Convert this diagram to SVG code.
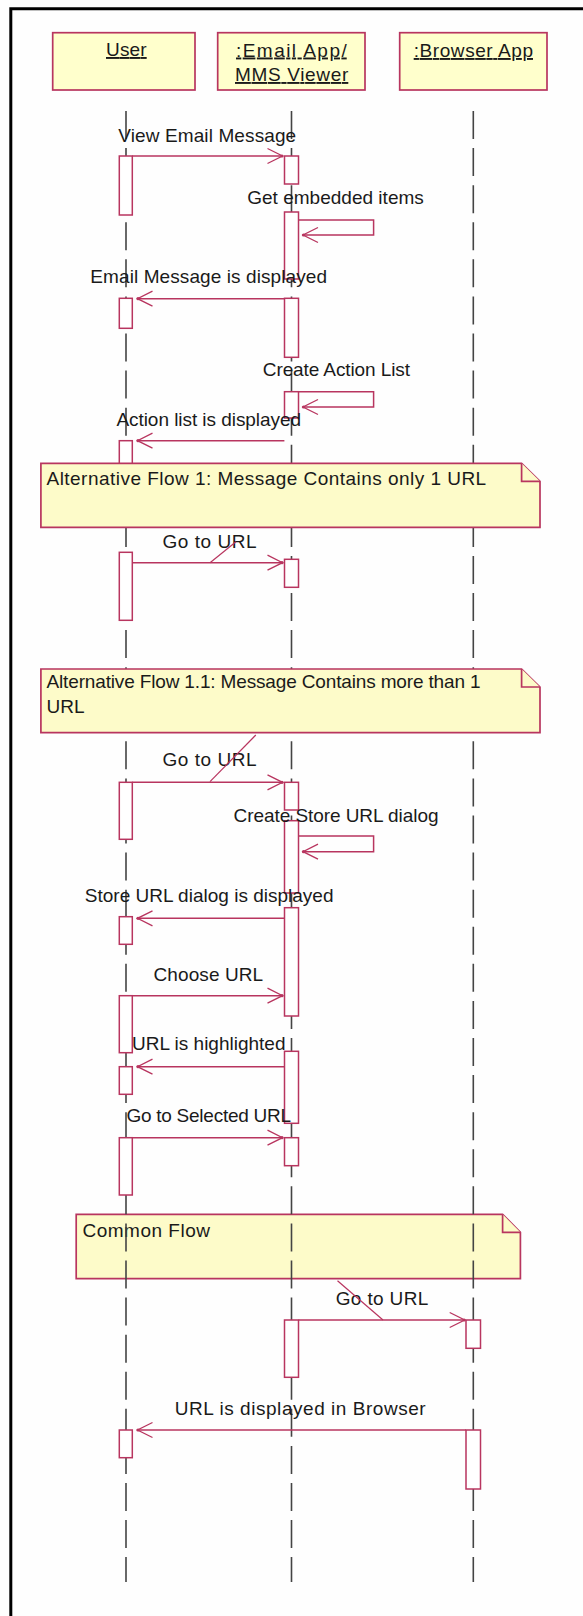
<svg xmlns="http://www.w3.org/2000/svg" width="583" height="1616" viewBox="0 0 583 1616">
<style>
.box{fill:#ffffcc;stroke:#b8355f;stroke-width:1.7}
.note{fill:#fdfbc9;stroke:#b8355f;stroke-width:1.7}
.act{fill:#ffffff;stroke:#b8355f;stroke-width:1.5}
.life{stroke:#444;stroke-width:1.6;stroke-dasharray:28 9.08;fill:none}
.msg{stroke:#b8355f;stroke-width:1.5;fill:none;marker-end:url(#arr)}
.anc{stroke:#b8355f;stroke-width:1.2;fill:none}
.t{font-family:"Liberation Sans",Arial,sans-serif;font-size:19px;fill:#1a1a1a}
.u{text-decoration:underline}
</style>
<defs>
<marker id="arr" markerUnits="userSpaceOnUse" markerWidth="18" markerHeight="18" viewBox="0 0 18 18" refX="16" refY="9" orient="auto">
<path d="M1,1.5 L16,9 L1,16.5" fill="none" stroke="#b8355f" stroke-width="1.3"/>
<circle cx="15.5" cy="9" r="1.6" fill="#b8355f"/>
</marker>
</defs>
<rect x="0" y="0" width="583" height="1616" fill="#fefefe"/>
<path d="M10.8,1616 V8.8 H583" fill="none" stroke="#000" stroke-width="3"/>

<g id="note-common">
<path class="note" d="M76.2,1214.3 H502.6 L520.4,1232.3 V1278.7 H76.2 Z"/>
<path class="note" d="M502.6,1214.3 V1232.3 H520.4" fill="none"/>
<text class="t" x="82.5" y="1237" textLength="127.5">Common Flow</text>
</g>

<g id="user">
<rect class="box" x="52.7" y="32.7" width="142.3" height="57.3"/>
<text class="t u" x="106" y="56" textLength="40.7">User</text>
<line class="life" x1="126" y1="111" x2="126" y2="1582"/>
<rect class="act" x="119.3" y="156" width="13" height="59"/>
<rect class="act" x="119.3" y="298.3" width="13" height="30"/>
<rect class="act" x="119.3" y="440.7" width="13" height="50"/>
<rect class="act" x="119.3" y="552.3" width="13" height="68"/>
<rect class="act" x="119.3" y="782.3" width="13" height="57"/>
<rect class="act" x="119.3" y="916.7" width="13" height="27.6"/>
<rect class="act" x="119.3" y="995.7" width="13" height="57"/>
<rect class="act" x="119.3" y="1066.7" width="13" height="27.6"/>
<rect class="act" x="119.3" y="1137.7" width="13" height="57.3"/>
<rect class="act" x="119.3" y="1430" width="13" height="27.7"/>
</g>

<g id="email">
<rect class="box" x="217.7" y="32.7" width="147.3" height="57.3"/>
<text class="t u" x="236" y="56.5" textLength="110.7">:Email App/</text>
<text class="t u" x="235" y="81" textLength="113.3">MMS Viewer</text>
<line class="life" x1="291.5" y1="111" x2="291.5" y2="1582"/>
<rect class="act" x="284.5" y="156" width="14" height="28"/>
<rect class="act" x="284.5" y="212" width="14" height="67"/>
<rect class="act" x="284.5" y="298.3" width="14" height="59"/>
<rect class="act" x="284.5" y="391.7" width="14" height="26.3"/>
<rect class="act" x="284.5" y="559.3" width="14" height="28"/>
<rect class="act" x="284.5" y="782.3" width="14" height="27.7"/>
<rect class="act" x="284.5" y="820.7" width="14" height="72.3"/>
<rect class="act" x="284.5" y="907.7" width="14" height="108.3"/>
<rect class="act" x="284.5" y="1051.3" width="14" height="72"/>
<rect class="act" x="284.5" y="1137.7" width="14" height="28"/>
<rect class="act" x="284.5" y="1320" width="14" height="57.3"/>
</g>

<g id="browser">
<rect class="box" x="399.7" y="32.7" width="147.3" height="57.3"/>
<text class="t u" x="413.7" y="57" textLength="119.3">:Browser App</text>
<line class="life" x1="473.3" y1="111" x2="473.3" y2="1582"/>
<rect class="act" x="466" y="1320" width="14.5" height="28.3"/>
<rect class="act" x="466" y="1430" width="14.5" height="59"/>
</g>

<g id="connectors">
<path class="msg" d="M132.3,156 H282.5"/>
<text class="t" x="118.2" y="141.5" textLength="178">View Email Message</text>
<path class="msg" d="M298.5,220 H373.6 V235 H303"/>
<text class="t" x="247.2" y="204" textLength="176.6">Get embedded items</text>
<path class="msg" d="M284.4,298.7 H137.5"/>
<text class="t" x="90.3" y="283" textLength="236.8">Email Message is displayed</text>
<path class="msg" d="M298.5,391.7 H373.6 V407 H303"/>
<text class="t" x="262.8" y="376" textLength="147.2">Create Action List</text>
<path class="msg" d="M284.4,440.7 H137.5"/>
<text class="t" x="116.4" y="426" textLength="184.7">Action list is displayed</text>
<path class="msg" d="M132.3,562.7 H282.5"/>
<text class="t" x="162.5" y="548" textLength="94">Go to URL</text>
<line class="anc" x1="210" y1="562.7" x2="236" y2="541.7"/>
<path class="msg" d="M132.3,782.3 H282.5"/>
<text class="t" x="162.5" y="766" textLength="94">Go to URL</text>
<line class="anc" x1="255.8" y1="735" x2="210" y2="781.7"/>
<path class="msg" d="M298.5,836 H373.6 V851.7 H303"/>
<text class="t" x="233.5" y="821.5" textLength="205">Create Store URL dialog</text>
<path class="msg" d="M284.4,918.3 H137.5"/>
<text class="t" x="84.8" y="901.5" textLength="248.7">Store URL dialog is displayed</text>
<path class="msg" d="M132.3,995.7 H282.5"/>
<text class="t" x="153.5" y="980.5" textLength="109.7">Choose URL</text>
<path class="msg" d="M284.4,1066.7 H137.5"/>
<text class="t" x="132" y="1050" textLength="153.5">URL is highlighted</text>
<path class="msg" d="M132.3,1137.7 H282.5"/>
<text class="t" x="126.4" y="1121.5" textLength="164.7">Go to Selected URL</text>
<path class="msg" d="M298.5,1320 H464.7"/>
<text class="t" x="335.7" y="1305" textLength="92.6">Go to URL</text>
<line class="anc" x1="337.5" y1="1280.7" x2="383" y2="1320"/>
<path class="msg" d="M466,1430 H137.5"/>
<text class="t" x="174.7" y="1415" textLength="251">URL is displayed in Browser</text>
</g>

<g id="note-alt1">
<path class="note" d="M40.9,463.3 H521.6 L540,481.3 V527.3 H40.9 Z"/>
<path class="note" d="M521.6,463.3 V481.3 H540" fill="none"/>
<text class="t" x="46.5" y="485" textLength="439.7">Alternative Flow 1: Message Contains only 1 URL</text>
</g>

<g id="note-alt11">
<path class="note" d="M40.9,669 H521.6 L540,687 V732.7 H40.9 Z"/>
<path class="note" d="M521.6,669 V687 H540" fill="none"/>
<text class="t" x="46.5" y="688" textLength="434">Alternative Flow 1.1: Message Contains more than 1</text>
<text class="t" x="46.5" y="713">URL</text>
</g>
</svg>
